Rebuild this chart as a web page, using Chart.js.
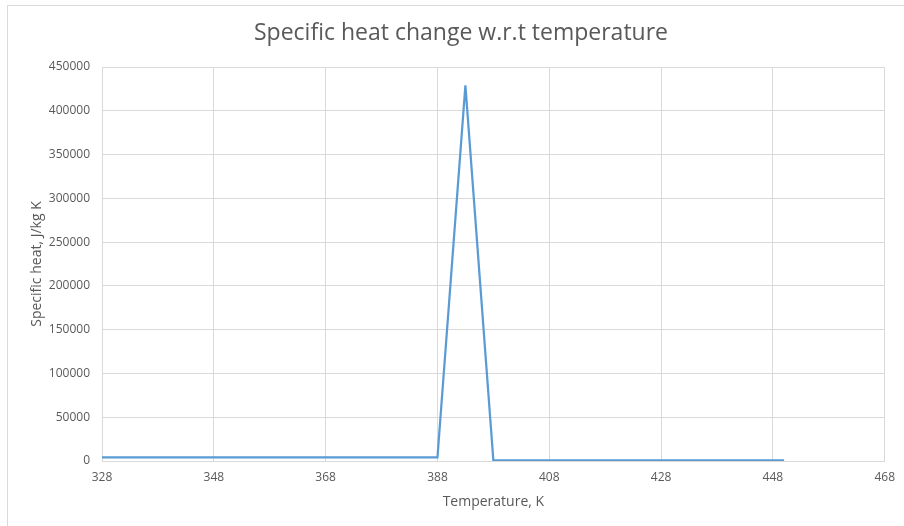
<!DOCTYPE html>
<html>
<head>
<meta charset="utf-8">
<script src="https://cdn.jsdelivr.net/npm/chart.js@4"></script>
<style>
    body { margin: 0; background: #fff; overflow: hidden; }
    #wrap { position: relative; width: 904px; height: 526px; }
    #frame {
        position: absolute; left: 7px; top: 5px; width: 910px; height: 540px;
        border-left: 1px solid #d9d9d9; border-top: 1px solid #d9d9d9;
        pointer-events: none;
    }
    canvas { position: absolute; left: 0; top: 0; }
</style>
</head>
<body>
<div id="wrap">
    <canvas id="heatChart" width="904" height="526"></canvas>
    <div id="frame"></div>
</div>
<script>
// Temperature (K) and specific heat (J/kg K)
const temperatures = [328, 348, 368, 388, 393, 398, 418, 438, 450];
const specificHeat = [4000, 4000, 4000, 4000, 429000, 800, 800, 800, 800];

// Axis ticks
const xTicks = [328, 348, 368, 388, 408, 428, 448, 468];
const yTicks = [0, 50000, 100000, 150000, 200000, 250000, 300000, 350000, 400000, 450000];

const textColor = "#595959";
const gridColor = "#d9d9d9";
const fontFamily = "'Open Sans', sans-serif";

function drawChart() {
    const points = temperatures.map((t, i) => ({ x: t, y: specificHeat[i] }));

    const ctx = document.getElementById("heatChart").getContext("2d");
    new Chart(ctx, {
        type: "scatter",
        data: {
            datasets: [
                {
                    label: "Specific heat",
                    data: points,
                    showLine: true,
                    borderColor: "#5b9bd5",
                    borderWidth: 2.25,
                    pointRadius: 0,
                    tension: 0,
                },
            ],
        },
        options: {
            responsive: false,
            animation: false,
            // left padding keeps the title centred on the whole frame
            layout: { padding: { left: 34, right: 16, top: 0, bottom: 0 } },
            plugins: {
                legend: { display: false },
                tooltip: { enabled: false },
                title: {
                    display: true,
                    text: "Specific heat change w.r.t temperature",
                    color: textColor,
                    font: { family: fontFamily, size: 23, weight: "normal" },
                    padding: { top: 20, bottom: 19.4 },
                },
            },
            scales: {
                x: {
                    type: "linear",
                    min: xTicks[0],
                    max: xTicks[xTicks.length - 1],
                    afterBuildTicks: (scale) => {
                        scale.ticks = xTicks.map((v) => ({ value: v }));
                    },
                    afterFit: (scale) => { scale.height = 65; },
                    ticks: {
                        color: textColor,
                        font: { family: fontFamily, size: 12 },
                        padding: 9,
                        maxRotation: 0,
                        callback: (v) => String(v),
                    },
                    grid: { color: gridColor, drawTicks: false },
                    border: { color: gridColor },
                    title: {
                        display: true,
                        text: "Temperature, K",
                        color: textColor,
                        font: { family: fontFamily, size: 14 },
                        padding: { top: 4, bottom: 15.6 },
                    },
                },
                y: {
                    min: yTicks[0],
                    max: yTicks[yTicks.length - 1],
                    afterBuildTicks: (scale) => {
                        scale.ticks = yTicks.map((v) => ({ value: v }));
                    },
                    afterFit: (scale) => { scale.width = 68; },
                    ticks: {
                        color: textColor,
                        font: { family: fontFamily, size: 12 },
                        padding: 12,
                        callback: (v) => String(v),
                    },
                    grid: { color: gridColor, drawTicks: false },
                    border: { color: gridColor },
                    title: {
                        display: true,
                        text: "Specific heat, J/kg K",
                        color: textColor,
                        font: { family: fontFamily, size: 14 },
                        padding: { top: -5.4, bottom: 4 },
                    },
                },
            },
        },
    });
}

document.addEventListener("DOMContentLoaded", drawChart);
</script>
</body>
</html>
